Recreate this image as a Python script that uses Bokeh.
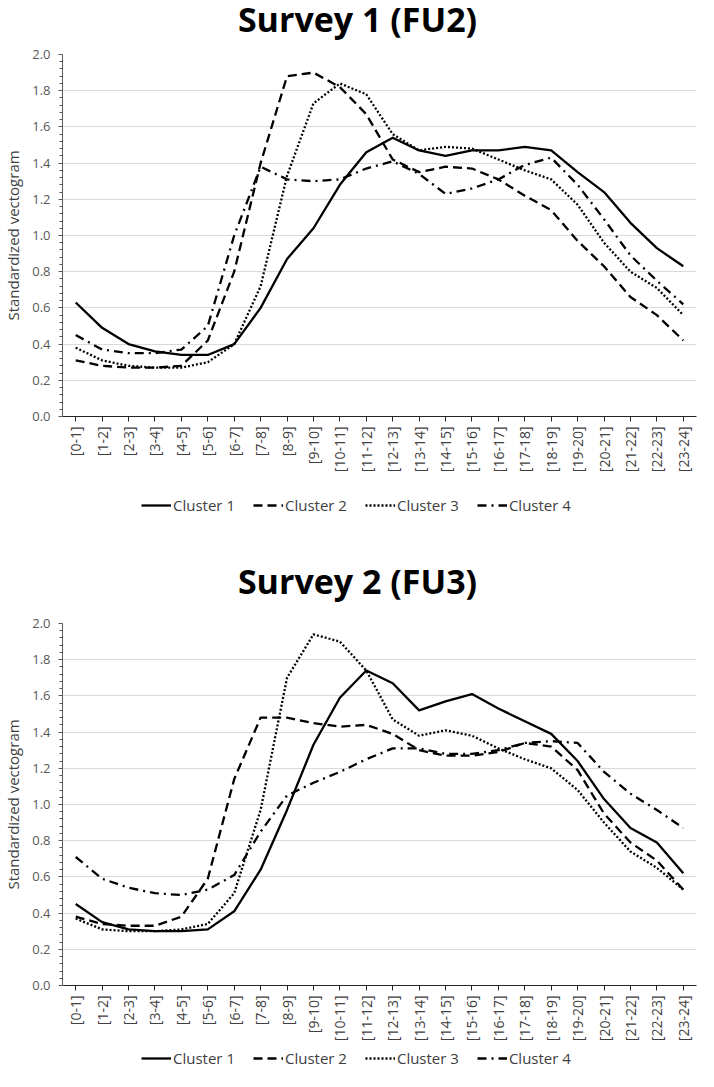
import math
from bokeh.plotting import figure
from bokeh.layouts import column
from bokeh.models import (FactorRange, Range1d, Legend, LegendItem, Label,
                          SingleIntervalTicker, PrintfTickFormatter)
from bokeh.embed import file_html
from bokeh.resources import INLINE

categories = ["[0-1]", "[1-2]", "[2-3]", "[3-4]", "[4-5]", "[5-6]", "[6-7]", "[7-8]",
              "[8-9]", "[9-10]", "[10-11]", "[11-12]", "[12-13]", "[13-14]", "[14-15]",
              "[15-16]", "[16-17]", "[17-18]", "[18-19]", "[19-20]", "[20-21]", "[21-22]",
              "[22-23]", "[23-24]"]
series_names = ["Cluster 1", "Cluster 2", "Cluster 3", "Cluster 4"]
titles = ["Survey 1 (FU2)", "Survey 2 (FU3)"]

s1_cluster1 = [0.63, 0.49, 0.40, 0.36, 0.34, 0.34, 0.40, 0.60, 0.87, 1.04, 1.28, 1.46,
               1.54, 1.47, 1.44, 1.47, 1.47, 1.49, 1.47, 1.35, 1.24, 1.07, 0.93, 0.83]
s1_cluster2 = [0.31, 0.28, 0.27, 0.27, 0.28, 0.42, 0.80, 1.40, 1.88, 1.90, 1.82, 1.67,
               1.42, 1.35, 1.38, 1.37, 1.31, 1.22, 1.14, 0.97, 0.83, 0.66, 0.56, 0.42]
s1_cluster3 = [0.38, 0.31, 0.28, 0.27, 0.27, 0.30, 0.40, 0.72, 1.33, 1.73, 1.84, 1.78,
               1.56, 1.47, 1.49, 1.48, 1.42, 1.36, 1.31, 1.17, 0.96, 0.80, 0.71, 0.56]
s1_cluster4 = [0.45, 0.37, 0.35, 0.35, 0.37, 0.50, 1.00, 1.38, 1.31, 1.30, 1.31, 1.37,
               1.41, 1.34, 1.23, 1.26, 1.31, 1.39, 1.43, 1.28, 1.09, 0.89, 0.75, 0.62]

s2_cluster1 = [0.45, 0.35, 0.31, 0.30, 0.30, 0.31, 0.41, 0.64, 0.97, 1.33, 1.59, 1.74,
               1.67, 1.52, 1.57, 1.61, 1.53, 1.46, 1.39, 1.24, 1.03, 0.87, 0.79, 0.62]
s2_cluster2 = [0.38, 0.34, 0.33, 0.33, 0.38, 0.59, 1.14, 1.48, 1.48, 1.45, 1.43, 1.44,
               1.39, 1.30, 1.27, 1.27, 1.29, 1.34, 1.32, 1.19, 0.95, 0.79, 0.69, 0.53]
s2_cluster3 = [0.37, 0.31, 0.30, 0.30, 0.31, 0.34, 0.51, 0.97, 1.70, 1.94, 1.90, 1.74,
               1.47, 1.38, 1.41, 1.38, 1.31, 1.25, 1.20, 1.08, 0.90, 0.74, 0.65, 0.53]
s2_cluster4 = [0.71, 0.59, 0.54, 0.51, 0.50, 0.53, 0.61, 0.85, 1.05, 1.12, 1.18, 1.25,
               1.31, 1.31, 1.28, 1.28, 1.30, 1.34, 1.35, 1.34, 1.18, 1.06, 0.97, 0.87]

survey1 = [s1_cluster1, s1_cluster2, s1_cluster3, s1_cluster4]
survey2 = [s2_cluster1, s2_cluster2, s2_cluster3, s2_cluster4]

dashes = ["solid", "9 5", "2 2", "9 5 2 5"]
FONT = "Open Sans"
W = 698
FRAME_H = 363
LINE_W = 2.3


def blank(height):
    f = figure(width=W, height=height, output_backend="svg", toolbar_location=None,
               x_range=FactorRange(*categories), y_range=Range1d(0, 2),
               x_axis_location=None, y_axis_location=None, min_border=0,
               min_border_left=0, min_border_right=0, min_border_top=0,
               min_border_bottom=0)
    f.grid.grid_line_color = None
    f.outline_line_color = None
    f.background_fill_color = "white"
    f.border_fill_color = "white"
    return f


def add_title(f, text, y):
    f.add_layout(Label(x=295, y=y, x_units="screen", y_units="screen", text=text,
                       text_align="center", text_baseline="alphabetic",
                       text_font=FONT, text_font_size="34px", text_font_style="bold",
                       text_color="black"))


def add_legend(f, series, y):
    items = []
    for name, vals, dash in zip(series_names, series, dashes):
        r = f.line(categories, vals, line_color="black", line_width=LINE_W,
                   line_dash=dash, visible=False)
        items.append(LegendItem(label=name, renderers=[r]))
    legend = Legend(items=items, orientation="horizontal", location=(79, y),
                    border_line_color=None, background_fill_alpha=0,
                    label_text_font=FONT, label_text_font_size="15px",
                    label_text_color="#404040", glyph_width=30, glyph_height=14,
                    label_standoff=2, spacing=18, padding=0, margin=0)
    f.add_layout(legend, "center")


def make_chart(series):
    p = figure(x_range=FactorRange(*categories), y_range=Range1d(0, 2),
               width=W, height=8 + FRAME_H + 58, output_backend="svg",
               toolbar_location=None, min_border_left=56, min_border_right=2,
               min_border_top=8, min_border_bottom=58)
    p.outline_line_color = None
    p.background_fill_color = "white"
    p.border_fill_color = "white"

    p.xgrid.grid_line_color = None
    p.ygrid.grid_line_color = "#d9d9d9"
    p.ygrid.grid_line_width = 1

    p.yaxis.ticker = SingleIntervalTicker(interval=0.2, num_minor_ticks=5)
    p.yaxis.formatter = PrintfTickFormatter(format="%.1f")
    p.yaxis.axis_label = "Standardized vectogram"
    p.yaxis.axis_label_text_font = FONT
    p.yaxis.axis_label_text_font_size = "15px"
    p.yaxis.axis_label_text_font_style = "normal"
    p.yaxis.axis_label_text_color = "#404040"
    p.yaxis.axis_label_standoff = 6
    p.yaxis.major_label_text_font = FONT
    p.yaxis.major_label_text_font_size = "13px"
    p.yaxis.major_label_text_color = "#595959"
    p.yaxis.major_label_standoff = 8
    p.yaxis.axis_line_color = "#595959"
    p.yaxis.major_tick_line_color = "#595959"
    p.yaxis.minor_tick_line_color = "#595959"
    p.yaxis.major_tick_out = 4
    p.yaxis.major_tick_in = 0
    p.yaxis.minor_tick_out = 3
    p.yaxis.minor_tick_in = 0

    p.xaxis.major_label_orientation = math.pi / 2
    p.xaxis.major_label_text_font = FONT
    p.xaxis.major_label_text_font_size = "14px"
    p.xaxis.major_label_text_color = "#404040"
    p.xaxis.major_label_standoff = 5
    p.xaxis.axis_line_color = "#262626"
    p.xaxis.major_tick_line_color = "#262626"
    p.xaxis.major_tick_out = 5
    p.xaxis.major_tick_in = 0

    for vals, dash in zip(series, dashes):
        p.line(categories, vals, line_color="black", line_width=LINE_W,
               line_dash=dash, line_join="round")
    return p


f1 = blank(46)
add_title(f1, titles[0], 28)
c1 = make_chart(survey1)
f3 = blank(140)
add_legend(f3, survey1, 100)
add_title(f3, titles[1], 35)
c2 = make_chart(survey2)
f5 = blank(27)
add_legend(f5, survey2, 3)

p = column(f1, c1, f3, c2, f5, spacing=0)
open("out.html", "w").write(file_html(p, INLINE))
